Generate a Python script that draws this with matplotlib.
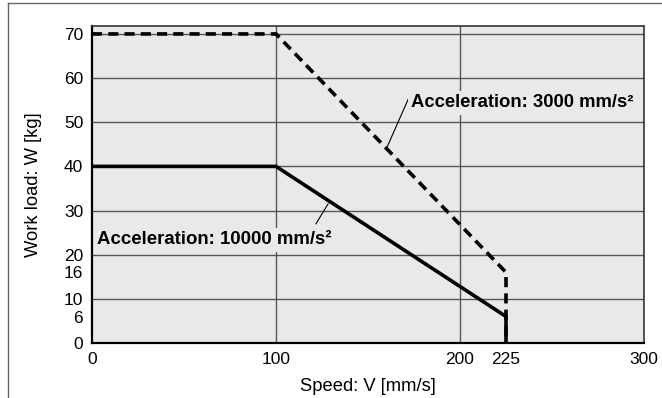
import matplotlib
matplotlib.use("Agg")
import matplotlib.pyplot as plt
from matplotlib.lines import Line2D

plt.rcParams['font.family'] = ['Liberation Sans', 'DejaVu Sans']

# Load curves: speed [mm/s] vs. allowable work load [kg]
speed_3000 = [0, 100, 225, 225]
load_3000 = [70, 70, 16, 0]
speed_10000 = [0, 100, 225, 225]
load_10000 = [40, 40, 6, 0]

x_ticks = [0, 100, 200, 225, 300]
y_ticks = [0, 6, 10, 16, 20, 30, 40, 50, 60, 70]
x_grid = [100, 200]
y_grid = [10, 20, 30, 40, 50, 60, 70]

label_3000 = "Acceleration: 3000 mm/s²"
label_10000 = "Acceleration: 10000 mm/s²"

bg = "#e8e9e8"
grid_c = "#555555"

fig = plt.figure(figsize=(6.62, 3.98), dpi=100)
ax = fig.add_axes([92 / 662, 55 / 398, 552 / 662, 317 / 398])
ax.set_facecolor(bg)
ax.set_xlim(0, 300)
ax.set_ylim(0, 71.8)

for gx in x_grid:
    ax.axvline(gx, color=grid_c, lw=1.0, zorder=1)
for gy in y_grid:
    ax.axhline(gy, color=grid_c, lw=1.0, zorder=1)

ax.plot(speed_10000, load_10000, color="black", lw=2.6, zorder=4,
        solid_capstyle="butt", solid_joinstyle="miter")
ax.plot(speed_3000, load_3000, color="black", lw=2.6, zorder=4,
        linestyle=(0, (2.8, 1.7)), dash_capstyle="butt")

# Callout labels with leader lines
ax.plot([160.5, 173.0], [44.5, 56.3], color="black", lw=0.8, zorder=3)
ax.text(173.5, 53.4, label_3000, fontsize=13.3, fontweight="bold",
        ha="left", va="baseline", zorder=3,
        bbox=dict(facecolor=bg, edgecolor="none", pad=2.5))
ax.plot([121.7, 128.3], [27.0, 31.5], color="black", lw=0.8, zorder=3)
ax.text(2.9, 22.4, label_10000, fontsize=13.4, fontweight="bold",
        ha="left", va="baseline", zorder=3,
        bbox=dict(facecolor=bg, edgecolor="none", pad=2.5))

ax.set_xticks(x_ticks)
ax.set_xticklabels([str(v) for v in x_ticks])
ax.set_yticks(y_ticks)
ax.set_yticklabels([str(v) for v in y_ticks])
ax.tick_params(axis="both", length=0, labelsize=12.5, pad=6.3)

ax.set_xlabel("Speed: V [mm/s]", fontsize=13.2, labelpad=8)
ax.set_ylabel("Work load: W [kg]", fontsize=13.2, labelpad=16)

for side in ("left", "bottom"):
    ax.spines[side].set_color("black")
    ax.spines[side].set_linewidth(1.6)
for side in ("top", "right"):
    ax.spines[side].set_color("#333333")
    ax.spines[side].set_linewidth(1.2)

# Outer frame (left and top edges)
fig.add_artist(Line2D([8 / 662, 8 / 662], [0, 1 - 3 / 398],
                      transform=fig.transFigure, color="#666666", lw=1.0))
fig.add_artist(Line2D([8 / 662, 1], [1 - 3 / 398, 1 - 3 / 398],
                      transform=fig.transFigure, color="#666666", lw=1.0))

fig.savefig("out.png", dpi=100)
